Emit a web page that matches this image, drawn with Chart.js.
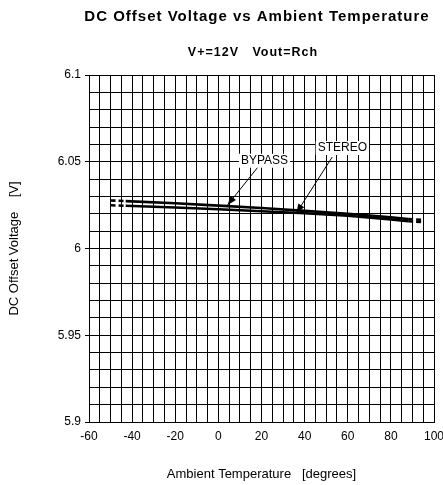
<!DOCTYPE html>
<html>
<head>
<meta charset="utf-8">
<script src="https://cdn.jsdelivr.net/npm/chart.js@4/dist/chart.umd.min.js"></script>
<style>
  html, body { margin: 0; padding: 0; background: #fff; }
  #wrap { width: 443px; height: 485px; }
</style>
</head>
<body>
<div id="wrap"><canvas id="c" width="443" height="485"></canvas></div>
<script>
// ---- data ----
const temps = [-50, -43, -20, 0, 20, 40, 60, 80, 88, 95];
const bypass = [6.0277, 6.0273, 6.0261, 6.0247, 6.0233, 6.0217, 6.0200, 6.0180, 6.0170, 6.0165];
const stereo = [6.0249, 6.0246, 6.0236, 6.0226, 6.0215, 6.0203, 6.0189, 6.0168, 6.0157, 6.0152];
const seriesNames = ['BYPASS', 'STEREO'];
const xTickLabels = ['-60', '-40', '-20', '0', '20', '40', '60', '80', '100'];
const yTickLabels = ['5.9', '5.95', '6', '6.05', '6.1'];
// annotation anchors in data units: label point, arrow start, arrow tip
const labelAt = { BYPASS: [21.4, 6.0506], STEREO: [57.5, 6.0579] };
const arrowFrom = { BYPASS: [19.1, 6.0481], STEREO: [52.8, 6.0527] };
const arrowTo = { BYPASS: [4.3, 6.0251], STEREO: [36.2, 6.0205] };

const FONT = '"Liberation Sans", Arial, sans-serif';
const last = temps.length - 1;
const dashSeg = ctx => (ctx.p0DataIndex === 0 || ctx.p1DataIndex === last) ? [5, 3] : undefined;

function mk(name, vals) {
  return {
    label: name,
    data: temps.map((t, i) => ({ x: t, y: vals[i] })),
    borderColor: '#000',
    borderWidth: 2.6,
    pointRadius: 0,
    tension: 0,
    segment: { borderDash: dashSeg }
  };
}

const isLabeled = (v, step) => Math.abs(v / step - Math.round(v / step)) < 1e-6;

const textPlugin = {
  id: 'texts',
  afterDraw(chart) {
    const c = chart.ctx;
    const xs = chart.scales.x, ys = chart.scales.y;
    c.save();
    c.fillStyle = '#000';
    c.textAlign = 'center';
    c.textBaseline = 'middle';
    c.font = 'bold 15px ' + FONT;
    c.letterSpacing = '1px';
    c.fillText('DC Offset Voltage vs Ambient Temperature', 257, 17);
    c.font = 'bold 12.5px ' + FONT;
    c.letterSpacing = '1px';
    c.fillText('V+=12V   Vout=Rch', 253, 53);
    c.letterSpacing = '0px';

    // annotations
    seriesNames.forEach(n => {
      const fx = xs.getPixelForValue(arrowFrom[n][0]), fy = ys.getPixelForValue(arrowFrom[n][1]);
      const tx = xs.getPixelForValue(arrowTo[n][0]), ty = ys.getPixelForValue(arrowTo[n][1]);
      c.strokeStyle = '#000';
      c.lineWidth = 1;
      c.beginPath(); c.moveTo(fx, fy); c.lineTo(tx, ty); c.stroke();
      const ang = Math.atan2(ty - fy, tx - fx);
      const L = 9, W = 3.5;
      c.beginPath();
      c.moveTo(tx, ty);
      c.lineTo(tx - L * Math.cos(ang) + W * Math.sin(ang), ty - L * Math.sin(ang) - W * Math.cos(ang));
      c.lineTo(tx - L * Math.cos(ang) - W * Math.sin(ang), ty - L * Math.sin(ang) + W * Math.cos(ang));
      c.closePath(); c.fill();

      const lx = xs.getPixelForValue(labelAt[n][0]), ly = ys.getPixelForValue(labelAt[n][1]);
      c.font = '12px ' + FONT;
      const w = c.measureText(n).width;
      c.fillStyle = '#fff';
      c.fillRect(lx - w / 2 - 2, ly - 7, w + 4, 14);
      c.fillStyle = '#000';
      c.fillText(n, lx, ly);
    });
    c.restore();
  }
};

new Chart(document.getElementById('c'), {
  type: 'line',
  data: { datasets: [mk(seriesNames[0], bypass), mk(seriesNames[1], stereo)] },
  plugins: [textPlugin],
  options: {
    responsive: false,
    animation: false,
    devicePixelRatio: 1,
    layout: { padding: { top: 75, right: 9, left: 0, bottom: 0 } },
    plugins: { legend: { display: false }, tooltip: { enabled: false }, title: { display: false } },
    scales: {
      x: {
        type: 'linear',
        min: -60, max: 100,
        afterFit(s) { s.height = 63; s.paddingLeft = 0; s.paddingRight = 0; },
        ticks: {
          stepSize: 5,
          autoSkip: false,
          maxRotation: 0,
          color: '#000',
          font: { family: FONT, size: 12 },
          padding: 7,
          callback: v => isLabeled(v, 20) ? xTickLabels[Math.round((v + 60) / 20)] : ''
        },
        grid: { color: '#000', lineWidth: 1, drawTicks: false, tickLength: 0 },
        border: { color: '#000', width: 1 },
        title: {
          display: true,
          text: 'Ambient Temperature   [degrees]',
          color: '#000',
          font: { family: FONT, size: 13 },
          padding: { top: 0, bottom: 3 }
        }
      },
      y: {
        type: 'linear',
        min: 5.9, max: 6.1,
        afterFit(s) { s.width = 89; s.paddingTop = 0; s.paddingBottom = 0; },
        ticks: {
          stepSize: 0.01,
          autoSkip: false,
          color: '#000',
          font: { family: FONT, size: 12 },
          padding: 4,
          callback: v => isLabeled(v - 5.9, 0.05) ? yTickLabels[Math.round((v - 5.9) / 0.05)] : ''
        },
        grid: {
          color: '#000', lineWidth: 1, tickLength: 4,
          tickColor: ctx => (ctx.tick && isLabeled(ctx.tick.value - 5.9, 0.05)) ? '#000' : 'rgba(0,0,0,0)'
        },
        border: { color: '#000', width: 1 },
        title: {
          display: true,
          text: 'DC Offset Voltage    [V]',
          color: '#000',
          font: { family: FONT, size: 13 },
          padding: { top: 7, bottom: 0 }
        }
      }
    }
  }
});
</script>
</body>
</html>
